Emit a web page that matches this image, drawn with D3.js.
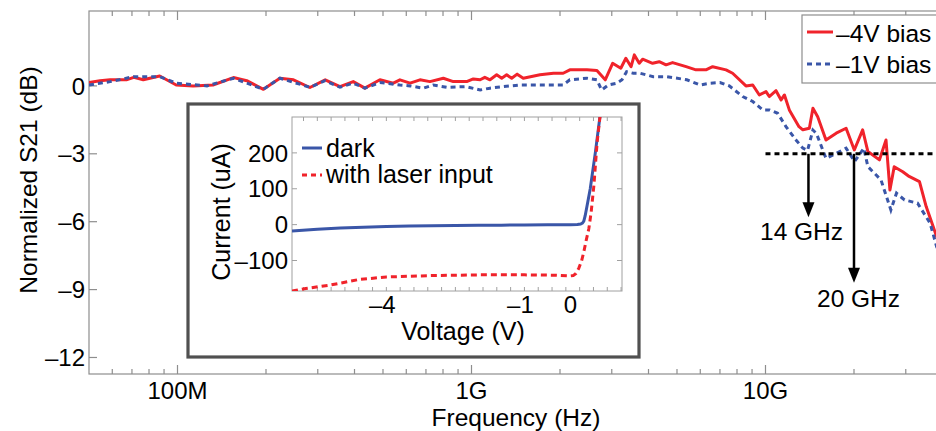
<!DOCTYPE html>
<html>
<head>
<meta charset="utf-8">
<script src="https://cdn.jsdelivr.net/npm/d3@7"></script>
<style>
  body { margin: 0; background: #fff; }
  svg { display: block; font-family: "Liberation Sans", Arial, Helvetica, sans-serif; }
</style>
</head>
<body>
<svg width="936" height="431"></svg>
<script>
// S21 frequency response, frequencies in GHz
var freqRed = [0.050, 0.0545, 0.059, 0.067, 0.071, 0.0765, 0.087, 0.099, 0.113, 0.132, 0.155, 0.172, 0.196, 0.223, 0.248, 0.282, 0.318, 0.357, 0.396, 0.434, 0.488, 0.542, 0.571, 0.618, 0.668, 0.722, 0.802, 0.867, 0.963, 1.014, 1.07, 1.11, 1.156, 1.218, 1.267, 1.317, 1.37, 1.43, 1.50, 1.71, 1.90, 2.05, 2.16, 2.47, 2.67, 2.85, 3.02, 3.22, 3.35, 3.49, 3.58, 3.72, 3.82, 4.13, 4.35, 4.59, 4.83, 5.37, 5.80, 6.27, 6.61, 7.34, 7.73, 8.58, 9.05, 9.53, 10.04, 10.3, 10.86, 11.3, 11.6, 12.05, 13.0, 13.4, 14.1, 14.5, 15.05, 16.06, 17.4, 18.8, 20.05, 21.4, 22.3, 24.4, 25.7, 26.5, 27.4, 29.3, 30.8, 33.4, 35.2, 37.2, 38.2, 40];
var s21Red = [0.15, 0.23, 0.27, 0.27, 0.38, 0.27, 0.44, 0.04, 0.0, 0.04, 0.37, 0.23, -0.15, 0.34, 0.27, -0.07, 0.27, -0.03, 0.19, -0.1, 0.27, 0.12, 0.27, 0.12, 0.27, 0.19, 0.34, 0.19, 0.19, 0.31, 0.27, 0.38, 0.27, 0.49, 0.34, 0.49, 0.34, 0.52, 0.34, 0.49, 0.56, 0.56, 0.71, 0.71, 0.68, 0.27, 1.0, 0.78, 1.22, 0.85, 1.37, 1.0, 1.18, 1.0, 1.07, 0.93, 1.03, 0.85, 0.71, 0.71, 0.85, 0.71, 0.56, 0.0, 0.04, -0.4, -0.25, -0.47, -0.21, -0.62, -0.4, -1.06, -1.8, -1.94, -1.87, -0.99, -1.36, -2.39, -2.09, -1.87, -2.83, -1.94, -2.9, -3.27, -2.39, -4.6, -3.57, -3.79, -4.0, -4.23, -5.33, -6.22, -6.66, -7.3];

var freqBlue = [0.050, 0.059, 0.071, 0.087, 0.099, 0.126, 0.155, 0.196, 0.223, 0.282, 0.318, 0.357, 0.396, 0.434, 0.488, 0.571, 0.618, 0.686, 0.741, 0.823, 0.958, 1.07, 1.156, 1.283, 1.46, 1.90, 2.05, 2.16, 2.47, 2.67, 2.77, 2.92, 3.12, 3.25, 3.37, 3.55, 3.74, 4.15, 4.61, 5.40, 5.99, 6.47, 7.0, 7.53, 8.37, 9.05, 9.78, 10.3, 11.0, 11.74, 12.7, 13.4, 13.9, 14.5, 14.9, 16.06, 17.4, 18.8, 20.1, 21.6, 22.3, 24.7, 26.7, 27.9, 29.7, 32.9, 36.3, 38.2, 40];
var s21Blue = [0.04, 0.19, 0.41, 0.41, 0.12, 0.0, 0.34, -0.15, 0.34, -0.06, 0.23, -0.06, 0.12, -0.1, 0.15, 0.04, 0.0, -0.1, 0.04, -0.06, -0.03, -0.18, -0.1, -0.03, 0.04, 0.04, 0.04, 0.27, 0.34, 0.27, -0.18, 0.04, 0.12, 0.27, 0.63, 0.56, 0.56, 0.41, 0.41, 0.27, 0.04, 0.12, 0.15, 0.0, -0.47, -0.69, -1.06, -1.06, -1.21, -1.8, -2.39, -2.75, -2.85, -1.95, -2.1, -3.2, -2.98, -2.75, -3.34, -2.75, -3.57, -4.15, -5.48, -4.74, -5.04, -5.18, -6.07, -7.1, -7.6];

// inset: I-V curves
var voltDark = [-6.05, -5.5, -5, -4.5, -4, -3.5, -3, -2.5, -2, -1.5, -1, -0.5, 0, 0.15, 0.22, 0.26, 0.29, 0.32, 0.36, 0.43, 0.54, 0.65];
var curDark = [-18, -13, -9.5, -7, -5, -4, -3, -2.5, -2, -1.5, -1, -0.5, 0, 0.5, 1.5, 4, 10, 25, 52, 100, 200, 310];
var voltLaser = [-6.05, -5.75, -5.2, -4.6, -4, -3, -2, -1, -0.3, 0, 0.06, 0.12, 0.18, 0.24, 0.29, 0.34, 0.4, 0.45, 0.51, 0.58, 0.65];
var curLaser = [-185, -178, -168, -153, -146, -142, -140, -140, -141, -143, -142, -136, -122, -102, -76, -45, -11, 35, 110, 230, 310];

// ticks and annotations
var s21Ticks = [0, -3, -6, -9, -12];
var freqMajor = [0.1, 1, 10];
var freqLabels = ["100M", "1G", "10G"];
var currentTicks = [200, 100, 0, -100];
var voltTicks = [-4, -1, 0];
var seriesNames = ["\u20134V bias", "\u20131V bias"];
var ivNames = ["dark", "with laser input"];
var cutoffLevel = -3;
var cutoffFreq = [14, 20];
var arrowEnd = [-5.8, -8.7];
var cutoffLabels = ["14 GHz", "20 GHz"];

var RED = "#f0232b", BLUE = "#3a56a8", AXIS = "#8e8e8e";

// minus sign as in the original (en dash)
function lab(v){
  return String(v).replace("-", "\u2013");
}

var svg = d3.select("svg");

// MAIN PLOT
var x = d3.scaleLog().domain([0.05, 40]).range([89, 942.5]),
    y = d3.scaleLinear().domain([-12.73, 3.31]).range([374, 11]);

svg.append("clipPath").attr("id", "clipMain")
  .append("rect")
  .attr("x", x.range()[0]).attr("y", y.range()[1])
  .attr("width", x.range()[1] - x.range()[0]).attr("height", y.range()[0] - y.range()[1]);

var frame = svg.append("g").attr("class", "frame");
frame.append("rect")
  .attr("x", 89).attr("y", 11)
  .attr("width", 853.5).attr("height", 363)
  .attr("fill", "none").attr("stroke", AXIS).attr("stroke-width", 1.2);

// minor + major ticks on the log axis, top and bottom
var freqTicks = [];
[0.01, 0.1, 1, 10].forEach(function(dec){
  for (var k = 1; k <= 9; k++){
    var f = k * dec;
    if (f > 0.05 && f < 40) freqTicks.push(f);
  }
});
freqTicks.forEach(function(f){
  var len = freqMajor.indexOf(f) >= 0 ? 9 : 5;
  var xx = x(f);
  frame.append("line").attr("x1", xx).attr("x2", xx).attr("y1", 374).attr("y2", 374 - len)
    .attr("stroke", AXIS).attr("stroke-width", 1.2);
  frame.append("line").attr("x1", xx).attr("x2", xx).attr("y1", 11).attr("y2", 11 + len)
    .attr("stroke", AXIS).attr("stroke-width", 1.2);
});
s21Ticks.forEach(function(t){
  frame.append("line").attr("x1", 89).attr("x2", 97).attr("y1", y(t)).attr("y2", y(t))
    .attr("stroke", AXIS).attr("stroke-width", 1.2);
  frame.append("text").attr("x", 85).attr("y", y(t)).attr("dy", "0.36em")
    .attr("text-anchor", "end").attr("font-size", 24).text(lab(t));
});
freqMajor.forEach(function(f, i){
  frame.append("text").attr("x", x(f)).attr("y", 399)
    .attr("text-anchor", "middle").attr("font-size", 24).text(freqLabels[i]);
});
frame.append("text").attr("x", 516).attr("y", 426)
  .attr("text-anchor", "middle").attr("font-size", 24.5).text("Frequency (Hz)");
frame.append("text").attr("transform", "translate(37,180) rotate(-90)")
  .attr("text-anchor", "middle").attr("font-size", 24.5).text("Normalized S21 (dB)");

var line = d3.line().x(function(d){ return x(d[0]); }).y(function(d){ return y(d[1]); });
var curves = svg.append("g").attr("clip-path", "url(#clipMain)");
curves.append("path").datum(d3.zip(freqRed, s21Red))
  .attr("d", line).attr("fill", "none").attr("stroke", RED)
  .attr("stroke-width", 3).attr("stroke-linejoin", "round");
curves.append("path").datum(d3.zip(freqBlue, s21Blue))
  .attr("d", line).attr("fill", "none").attr("stroke", BLUE)
  .attr("stroke-width", 3).attr("stroke-dasharray", "5,4");

// -3 dB line and arrows
curves.append("line")
  .attr("x1", x(10)).attr("x2", x(40)).attr("y1", y(cutoffLevel)).attr("y2", y(cutoffLevel))
  .attr("stroke", "#000").attr("stroke-width", 3).attr("stroke-dasharray", "5,4");
cutoffFreq.forEach(function(f, i){
  var ax = x(f), y0 = y(cutoffLevel), y1 = y(arrowEnd[i]);
  svg.append("line").attr("x1", ax).attr("x2", ax).attr("y1", y0).attr("y2", y1 - 12)
    .attr("stroke", "#000").attr("stroke-width", 2.5);
  svg.append("path")
    .attr("d", "M" + (ax - 6) + "," + (y1 - 15) + "L" + (ax + 6) + "," + (y1 - 15) + "L" + ax + "," + y1 + "Z")
    .attr("fill", "#000");
});
svg.append("text").attr("x", 760).attr("y", 240).attr("font-size", 24.5).text(cutoffLabels[0]);
svg.append("text").attr("x", 817).attr("y", 307).attr("font-size", 24.5).text(cutoffLabels[1]);

// legend (runs off the right edge like the original)
var leg = svg.append("g");
leg.append("rect").attr("x", 802).attr("y", 15).attr("width", 200).attr("height", 68)
  .attr("fill", "#fff").attr("stroke", AXIS).attr("stroke-width", 1.2);
leg.append("line").attr("x1", 807).attr("x2", 833).attr("y1", 32).attr("y2", 32)
  .attr("stroke", RED).attr("stroke-width", 3);
leg.append("line").attr("x1", 807).attr("x2", 833).attr("y1", 64).attr("y2", 64)
  .attr("stroke", BLUE).attr("stroke-width", 3).attr("stroke-dasharray", "5,4");
leg.append("text").attr("x", 836).attr("y", 42).attr("font-size", 24.5).text(seriesNames[0]);
leg.append("text").attr("x", 836).attr("y", 73).attr("font-size", 24.5).text(seriesNames[1]);

// INSET
var inset = svg.append("g").attr("class", "inset");
inset.append("rect").attr("x", 188).attr("y", 104).attr("width", 451).attr("height", 253)
  .attr("fill", "#fff").attr("stroke", "#505050").attr("stroke-width", 3.2);

var xi = d3.scaleLinear().domain([-6.05, 1.12]).range([292, 622]),
    yi = d3.scaleLinear().domain([-185, 300]).range([291, 117]);

svg.append("clipPath").attr("id", "clipInset")
  .append("rect").attr("x", 292).attr("y", 117).attr("width", 330).attr("height", 174);

inset.append("rect").attr("x", 292).attr("y", 117).attr("width", 330).attr("height", 174)
  .attr("fill", "none").attr("stroke", "#a0a0a0").attr("stroke-width", 1);

var voltMinor = d3.range(-5.8, 1.1, 0.3);
voltMinor.forEach(function(v){
  var len = 4;
  inset.append("line").attr("x1", xi(v)).attr("x2", xi(v)).attr("y1", 291).attr("y2", 291 - len)
    .attr("stroke", "#a0a0a0");
  inset.append("line").attr("x1", xi(v)).attr("x2", xi(v)).attr("y1", 117).attr("y2", 117 + len)
    .attr("stroke", "#a0a0a0");
});
currentTicks.forEach(function(t){
  inset.append("line").attr("x1", 292).attr("x2", 297).attr("y1", yi(t)).attr("y2", yi(t)).attr("stroke", "#a0a0a0");
  inset.append("line").attr("x1", 617).attr("x2", 622).attr("y1", yi(t)).attr("y2", yi(t)).attr("stroke", "#a0a0a0");
  inset.append("text").attr("x", 288).attr("y", yi(t)).attr("dy", "0.36em")
    .attr("text-anchor", "end").attr("font-size", 24).text(lab(t));
});
voltTicks.forEach(function(v){
  inset.append("text").attr("x", xi(v) - (v < 0 ? 4 : 0)).attr("y", 313)
    .attr("text-anchor", "middle").attr("font-size", 24).text(lab(v));
});
inset.append("text").attr("x", 463).attr("y", 340).attr("text-anchor", "middle")
  .attr("font-size", 25).text("Voltage (V)");
inset.append("text").attr("transform", "translate(230,212) rotate(-90)")
  .attr("text-anchor", "middle").attr("font-size", 25).text("Current (uA)");

var ivLine = d3.line().x(function(d){ return xi(d[0]); }).y(function(d){ return yi(d[1]); });
var ivCurves = inset.append("g").attr("clip-path", "url(#clipInset)");
ivCurves.append("path").datum(d3.zip(voltDark, curDark))
  .attr("d", ivLine).attr("fill", "none").attr("stroke", BLUE).attr("stroke-width", 3);
ivCurves.append("path").datum(d3.zip(voltLaser, curLaser))
  .attr("d", ivLine).attr("fill", "none").attr("stroke", RED)
  .attr("stroke-width", 3).attr("stroke-dasharray", "6,4");

// inset legend
inset.append("line").attr("x1", 302).attr("x2", 322).attr("y1", 148).attr("y2", 148)
  .attr("stroke", BLUE).attr("stroke-width", 3);
inset.append("line").attr("x1", 302).attr("x2", 322).attr("y1", 175).attr("y2", 175)
  .attr("stroke", RED).attr("stroke-width", 3).attr("stroke-dasharray", "5,4");
inset.append("text").attr("x", 326).attr("y", 157).attr("font-size", 25).text(ivNames[0]);
inset.append("text").attr("x", 326).attr("y", 183).attr("font-size", 25).text(ivNames[1]);
</script>
</body>
</html>
